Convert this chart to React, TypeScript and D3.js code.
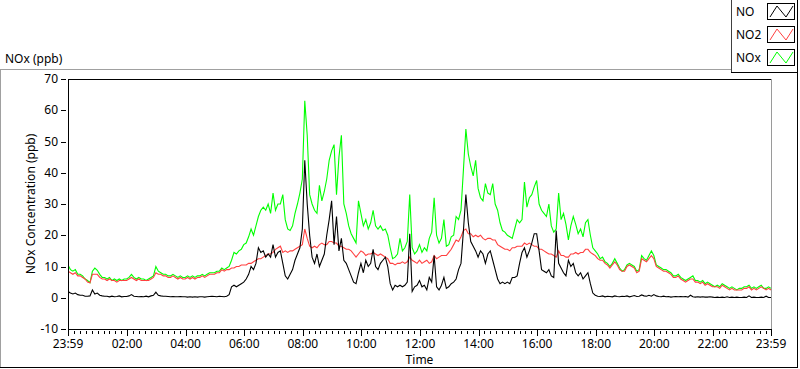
import * as d3 from 'd3';
import React from 'react';

// 5-minute samples from 23:59 to 23:59 (289 points each)
const NO = [
	2, 1.5, 1.2, 1.5, 1, 0.8, 0.8, 0.5, 0.5, 0.6, 2.5, 1.2,
	1.5, 0.8, 0.6, 0.5, 0.5, 0.3, 0.5, 0.3, 0.4, 0.6, 0.3, 0.4,
	0.4, 0.6, 1, 0.5, 0.4, 0.3, 0.4, 0.3, 0.5, 0.3, 0.6, 0.8,
	1.8, 0.8, 0.6, 0.5, 0.5, 0.4, 0.3, 0.4, 0.3, 0.3, 0.4, 0.3,
	0.3, 0.2, 0.3, 0.2, 0.3, 0.2, 0.3, 0.3, 0.2, 0.3, 0.4, 0.5,
	0.4, 0.3, 0.5, 0.4, 0.3, 0.5, 1, 3.5, 4, 3.5, 4, 4.5,
	5, 6, 7.5, 10, 9, 11, 16, 14.5, 15, 13, 14, 13,
	17, 13, 14.5, 15, 11, 7, 6, 7.5, 9, 12, 14, 16,
	22, 44, 30, 20, 13, 11, 14, 10, 12, 14, 20, 25,
	31, 17, 26, 15, 19, 12, 11, 9, 7, 5, 4.5, 8,
	11, 8, 12, 10, 11, 15.5, 10, 9, 11, 12, 13, 10,
	4.5, 2.5, 4, 3.5, 4, 3.5, 4, 5, 20.5, 2, 3.5, 4,
	5.5, 3.5, 4, 2.5, 6.5, 5, 13.5, 3.5, 2.5, 4, 6.5, 3,
	3.5, 4.5, 5, 6, 9, 11, 21.5, 33, 24, 18, 16.5, 15,
	13, 15, 14, 11, 14, 15, 12, 9, 6, 4.5, 5, 4.5,
	5, 4.5, 6.5, 6.5, 7, 11, 14.5, 16, 13, 15, 17.5, 20.5,
	20.5, 15, 9, 8.5, 8, 9, 7, 6.5, 21.5, 11, 9.5, 8,
	7, 12, 10, 11, 8, 7, 8, 6, 7, 8, 4.5, 1.5,
	0.8, 0.5, 0.4, 0.6, 0.3, 0.5, 0.4, 0.3, 0.6, 0.4, 0.3, 0.5,
	0.4, 0.6, 0.3, 0.5, 0.7, 0.4, 0.5, 0.9, 0.6, 0.5, 0.8, 0.5,
	1, 0.6, 0.4, 0.3, 0.5, 0.3, 0.4, 0.2, 0.3, 0.4, 0.3, 0.4,
	0.3, 0.4, 0.2, 0.8, 0.3, 0.2, 0.3, 0.2, 0.3, 0.2, 0.2, 0.3,
	0.2, 0.1, 0.2, 0.1, 0.2, 0.1, 0.3, 0.1, 0.2, 0.1, 0.2, 0.1,
	0.1, 0.2, 0.1, 0.6, 0.1, 0.2, 0.1, 0.1, 0.2, 0.1, 0.5, 0.1, 0.1,
];

const NO2 = [
	8.5, 8, 7.5, 8, 7, 7, 6.5, 6, 5, 4.8, 7.5, 7.5,
	7.5, 6.5, 6, 6, 5.5, 6, 5.5, 5.5, 5, 5.5, 5.5, 5.5,
	5.5, 6, 6.5, 6, 5.5, 6, 5.5, 5.5, 5.5, 5.5, 6, 6.5,
	8, 7.5, 7.5, 7, 7, 6.5, 6.5, 7, 6.5, 6, 6.5, 6,
	6, 6.5, 6, 6.5, 6, 6.5, 6.5, 7, 6.5, 7, 7.5, 7.5,
	7.5, 8, 8, 9, 8.5, 9, 9, 9.5, 9.5, 10, 10, 10.5,
	10.5, 10.5, 11, 11, 11.5, 12, 12.5, 12.5, 13, 13.5, 14, 14,
	14.5, 15.5, 16, 16.5, 14.5, 15, 14.5, 15, 15, 15.5, 16, 16.5,
	17, 22, 19, 16.5, 16, 16.5, 16, 17, 17.5, 17, 17, 18,
	18, 17.5, 17.5, 16.5, 16.5, 16, 15.5, 15.5, 15, 14, 13, 14,
	15, 14.5, 13.5, 14, 14, 14.5, 14, 13.5, 14, 13.5, 13, 12.5,
	11, 11, 10.5, 11, 11, 11.5, 11, 11.5, 13, 12, 11.5, 11,
	12, 11, 11.5, 12, 11, 11.5, 13.5, 12.5, 13, 13.5, 13.5, 13.5,
	14.5, 15.5, 17, 18.5, 18, 19.5, 21.5, 22, 20.5, 20.5, 19.5, 20,
	19.5, 20, 19, 18.5, 19, 19, 18.5, 18.5, 17, 16.5, 16, 15.5,
	15.5, 15, 16, 16, 16.5, 16.5, 16.5, 17.5, 17, 17.5, 17, 16.5,
	16.5, 15.5, 15.5, 15, 14.5, 14, 14, 13.5, 13, 15, 13.5, 13.5,
	13, 13, 14, 14, 14.5, 14, 14.5, 14.5, 15.5, 15.5, 14.5, 14,
	13.5, 12.5, 12, 12, 11, 10.5, 9.5, 10.5, 11.5, 10.5, 9, 8.5,
	8.5, 10, 10.5, 10, 9.5, 8, 8.5, 12.5, 12, 11.5, 12.5, 13.5,
	12.5, 10, 9.5, 9, 8.5, 8.5, 8, 7.5, 6.5, 6.5, 7, 6,
	5.5, 5, 5.5, 6, 6, 5, 5, 4.5, 5, 4, 4.5, 4,
	3.5, 3.5, 3.5, 3, 4, 3.5, 3, 2.5, 3, 2.5, 2.5, 2.5,
	2.5, 3, 3, 3.5, 2.5, 3, 2.5, 3, 3.5, 3, 2.5, 3, 2.5,
];

const NOX = [
	10.5, 9, 8.5, 9, 7.5, 7.5, 7, 6, 5.5, 4.8, 8.5, 9.5,
	8.8, 7.5, 6.5, 6.5, 6, 6.5, 5.5, 6, 5.5, 6, 5.5, 6,
	6, 6.5, 7.5, 6.5, 6, 6.5, 6, 6, 5.5, 6, 6.5, 7,
	10, 8.5, 8, 7.5, 7.5, 7, 7, 7.5, 7, 6.5, 7, 6.5,
	6.5, 7, 6.5, 7, 6.5, 7, 7, 7.5, 7, 7.5, 8, 8,
	8, 8.5, 8.5, 9.5, 9, 9.5, 10, 12, 14.5, 14, 15, 15.5,
	17, 17.5, 19.5, 22, 20, 23, 26, 28, 29, 28, 30, 27,
	33.5, 28, 30, 30, 33, 25, 22, 21.5, 23, 27, 30, 33.5,
	38, 63, 52, 33, 30, 28, 27, 36, 31, 34, 38, 44,
	47, 49, 33, 45, 52, 30, 27, 23, 20.5, 19, 17.5, 31,
	27, 23, 25, 22, 24, 28, 23, 22, 23, 21.5, 22, 20,
	16, 12.5, 13, 14, 19, 15, 16, 18, 33, 16, 14, 15,
	17, 14.5, 16, 15, 19, 21, 32, 20, 17.5, 19, 25, 16.5,
	17, 19.5, 20, 26, 25, 28, 41, 54, 46, 42, 39, 44,
	35, 32, 31, 36.5, 33.5, 33, 36.5, 30, 28, 24, 21.5, 21,
	20, 19.5, 19, 22, 25, 24, 25, 37, 29, 32, 33, 35.5,
	37.5, 30, 28, 27, 26, 30, 23, 21, 22, 33.5, 25, 27,
	23.5, 18.5, 23, 26, 23.5, 20.5, 22, 19.5, 24, 25, 20, 16,
	15, 14, 12.5, 13, 11.5, 11, 10, 11, 12.5, 11, 9.5, 8.5,
	9, 10.5, 11, 10.5, 10, 8.5, 9, 13.5, 12.5, 12, 13.5, 15,
	13.5, 10.5, 10, 9.5, 9, 9, 8.5, 8, 7, 7, 7.5, 6.5,
	6, 5.5, 6, 6.5, 7, 5.5, 5.5, 5, 5.5, 4.5, 5, 4.5,
	4, 3.5, 4, 3.5, 4.5, 4, 3.5, 3, 3.5, 3, 2.5, 3,
	3, 3.5, 3.5, 4, 3, 3.5, 3, 3.5, 4, 3, 3, 3.5, 3,
];

const Y_TICKS = [-10, 0, 10, 20, 30, 40, 50, 60, 70];
// minutes after 23:59
const X_TICKS = [0, 121, 241, 361, 481, 601, 721, 841, 961, 1081, 1201, 1321, 1440];
const X_LABELS = ['23:59', '02:00', '04:00', '06:00', '08:00', '10:00', '12:00', '14:00', '16:00', '18:00', '20:00', '22:00', '23:59'];

const SERIES = [
	{ name: 'NO', values: NO, color: '#000000' },
	{ name: 'NO2', values: NO2, color: '#ff4040' },
	{ name: 'NOx', values: NOX, color: '#00ff00' },
];

const font = 'Noto Sans, Liberation Sans, sans-serif';

const App = () => {
	const W = 800, H = 369;
	const left = 68, right = 771, top = 79, bottom = 329;

	const x = d3.scaleLinear().domain([0, 1440]).range([left, right]);
	const y = d3.scaleLinear().domain([-10, 70]).range([bottom, top]);

	const line = d3.line<number>()
		.x((_, i) => x(i * 5))
		.y(d => y(d));

	const minor = d3.range(1, 1440, 12).filter(t => !X_TICKS.includes(t));
	const drawOrder = [SERIES[2], SERIES[1], SERIES[0]];

	return (
		<svg width={W} height={H} style={{ position: 'absolute', left: 0, top: 0, background: '#fff' }} fontFamily={font}>
			{/* outer panel */}
			<line x1={0} x2={731} y1={69.5} y2={69.5} stroke="#a0a0a0" />
			<line x1={0.5} x2={0.5} y1={69} y2={368} stroke="#a0a0a0" />
			<line x1={0} x2={798} y1={367.5} y2={367.5} stroke="#000" />
			<line x1={797.5} x2={797.5} y1={72} y2={368} stroke="#000" />

			<text x={5} y={63} fontSize={12}>NOx (ppb)</text>

			{/* plot frame */}
			<rect x={left} y={top} width={right - left} height={bottom - top} fill="#fff" />
			<clipPath id="plot-clip">
				<rect x={left} y={top} width={right - left} height={bottom - top} />
			</clipPath>
			<g clipPath="url(#plot-clip)">
				{drawOrder.map(s => (
					<path key={s.name} d={line(s.values) ?? ''} fill="none" stroke={s.color} strokeWidth={1.1} strokeLinejoin="miter" />
				))}
			</g>
			<line x1={left} x2={right} y1={top + 0.5} y2={top + 0.5} stroke="#000" />
			<line x1={left + 0.5} x2={left + 0.5} y1={top} y2={bottom + 1} stroke="#000" />
			<line x1={right + 0.5} x2={right + 0.5} y1={top} y2={bottom + 1} stroke="#9a9a9a" />
			<line x1={left} x2={right + 1} y1={bottom + 0.5} y2={bottom + 0.5} stroke="#000" />

			{/* y axis */}
			{Y_TICKS.map(t => (
				<g key={t}>
					<line x1={61} x2={66} y1={Math.round(y(t)) + 0.5} y2={Math.round(y(t)) + 0.5} stroke="#000" />
					<text x={58} y={y(t)} dy="0.35em" textAnchor="end" fontSize={12}>{t}</text>
				</g>
			))}
			<text transform={`translate(35, ${(top + bottom) / 2}) rotate(-90)`} textAnchor="middle" fontSize={12}>NOx Concentration (ppb)</text>

			{/* x axis */}
			{minor.map(t => (
				<line key={t} x1={Math.round(x(t)) + 0.5} x2={Math.round(x(t)) + 0.5} y1={bottom + 2} y2={bottom + 5} stroke="#000" />
			))}
			{X_TICKS.map((t, i) => (
				<g key={t}>
					<line x1={Math.round(x(t)) + 0.5} x2={Math.round(x(t)) + 0.5} y1={bottom + 1} y2={bottom + 7} stroke="#000" />
					<text x={x(t)} y={348} textAnchor="middle" fontSize={12}>{X_LABELS[i]}</text>
				</g>
			))}
			<text x={(left + right) / 2} y={364} textAnchor="middle" fontSize={12}>Time</text>

			{/* legend */}
			<rect x={731} y={0} width={66} height={72} fill="#fff" />
			<line x1={731.5} x2={731.5} y1={0} y2={72} stroke="#404040" />
			<line x1={731} x2={798} y1={72.5} y2={72.5} stroke="#000" />
			<line x1={797.5} x2={797.5} y1={0} y2={73} stroke="#000" />
			{SERIES.map((s, i) => {
				const y0 = 3 + i * 23;
				return (
					<g key={s.name}>
						<text x={736} y={y0 + 13} fontSize={12}>{s.name}</text>
						<rect x={767.5} y={y0 + 0.5} width={27} height={16} fill="#fff" stroke="#000" />
						<polyline points={`770,${y0 + 14} 777,${y0 + 3} 786,${y0 + 14} 793,${y0 + 3}`} fill="none" stroke={s.color} strokeWidth={1} />
					</g>
				);
			})}
		</svg>
	);
};

export default App;
